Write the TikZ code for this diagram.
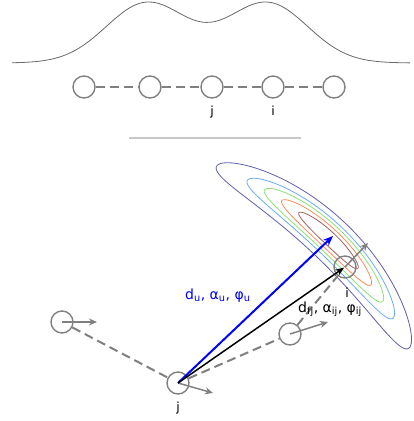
\documentclass[tikz,border=0pt]{standalone}
\usepackage{fontspec}
\setmainfont{DejaVu Sans}
\usepackage{xcolor}
\usetikzlibrary{arrows.meta}

\definecolor{siteGray}{RGB}{128,128,128}
\definecolor{curveGray}{RGB}{105,105,105}
\definecolor{ruleGray}{RGB}{200,200,200}
\definecolor{ringA}{RGB}{95,95,170}
\definecolor{ringB}{RGB}{110,170,250}
\definecolor{ringC}{RGB}{140,225,120}
\definecolor{ringD}{RGB}{250,140,90}
\definecolor{ringE}{RGB}{160,95,95}

\begin{document}
\begin{tikzpicture}[
  x=1pt, y=-1pt,
  site/.style={circle, draw=siteGray, line width=1.4pt, minimum size=22pt, inner sep=0pt},
  link/.style={draw=siteGray, line width=2pt, dash pattern=on 9pt off 5pt},
  motion/.style={-{Stealth[length=8pt,width=7pt]}, siteGray, line width=1.5pt},
  tag/.style={font=\fontsize{12.5}{14}\selectfont, anchor=base},
  lbl/.style={font=\fontsize{14}{16}\selectfont, anchor=base west, inner sep=0pt},
  contour/.style={draw=#1, line width=0.8pt},
  declare function={
    bx(\t,\w) = 87 + (353 + \w*sin(\t))*cos(46.5 + \w*cos(\t));
    by(\t,\w) = 495 - (353 + \w*sin(\t))*sin(46.5 + \w*cos(\t));
  }
]
  \useasboundingbox (0,0) rectangle (414,421);

  %% Top: density over the chain
  \draw[curveGray, line width=0.8pt] plot[domain=12:410, samples=120, smooth]
    (\x, {63 - 60.2*(exp(-((\x-147)/57.55)^2) + exp(-((\x-267)/57.55)^2))});

  \node[site] (c1) at (84,87) {};
  \node[site] (c2) at (150,87) {};
  \node[site] (c3) at (212,87) {};
  \node[site] (c4) at (273,87) {};
  \node[site] (c5) at (334,87) {};
  \draw[link] (c1) -- (c2);
  \draw[link] (c2) -- (c3);
  \draw[link] (c3) -- (c4);
  \draw[link] (c4) -- (c5);
  \node[tag] (c3lbl) at (212,115) {j};
  \node[tag] (c4lbl) at (273,115) {i};

  %% Separator
  \coordinate (sepL) at (129,138);
  \coordinate (sepR) at (301,138);
  \draw[ruleGray, line width=1.6pt] (sepL) -- (sepR);

  %% Bottom: posterior contours
  \draw[contour=ringA] plot[domain=0:360, samples=90, smooth cycle, variable=\t] ({bx(\t,22)}, {by(\t,22)});
  \draw[contour=ringB] plot[domain=0:360, samples=90, smooth cycle, variable=\t] ({bx(\t,16.5)}, {by(\t,16.5)});
  \draw[contour=ringC] plot[domain=0:360, samples=90, smooth cycle, variable=\t] ({bx(\t,13.3)}, {by(\t,13.3)});
  \draw[contour=ringD] plot[domain=0:360, samples=90, smooth cycle, variable=\t] ({bx(\t,10)}, {by(\t,10)});
  \draw[contour=ringE] plot[domain=0:360, samples=90, smooth cycle, variable=\t] ({bx(\t,6.6)}, {by(\t,6.6)});

  %% Bottom: particles
  \node[site] (pl) at (62,322) {};
  \node[site] (pj) at (178,383) {};
  \node[site] (pk) at (290,334) {};
  \node[site] (pi) at (345,267) {};

  \draw[link] (pl) -- (pj);
  \draw[link] (pj) -- (pk);
  \draw[link] (pk) -- (pi);

  \coordinate (plHead) at (97,322);
  \coordinate (pjHead) at (213,393);
  \coordinate (pkHead) at (328,322);
  \coordinate (piHead) at (368,243);
  \coordinate (muHead) at (333,236);
  \draw[motion] (pl.center) -- (plHead);
  \draw[motion] (pj.center) -- (pjHead);
  \draw[motion] (pk.center) -- (pkHead);
  \draw[motion] (pi.center) -- (piHead);

  \draw[-{Stealth[length=10pt,width=8pt]}, blue, line width=2pt] (pj.center) -- (muHead);
  \draw[-{Stealth[length=9pt,width=7pt]}, black, line width=1.5pt, shorten >=1pt] (pj.center) -- (pi.center);

  %% Labels
  \node[lbl, text=blue] (muLbl) at (185,299) {d\textsubscript{u}, α\textsubscript{u}, φ\textsubscript{u}};
  \node[lbl] (obsLbl) at (298,312) {d\textsubscript{fj}, α\textsubscript{ij}, φ\textsubscript{ij}};
  \node[tag] (pjlbl) at (178,411) {j};
  \node[tag] (pilbl) at (347,297) {i};
\end{tikzpicture}
\end{document}
